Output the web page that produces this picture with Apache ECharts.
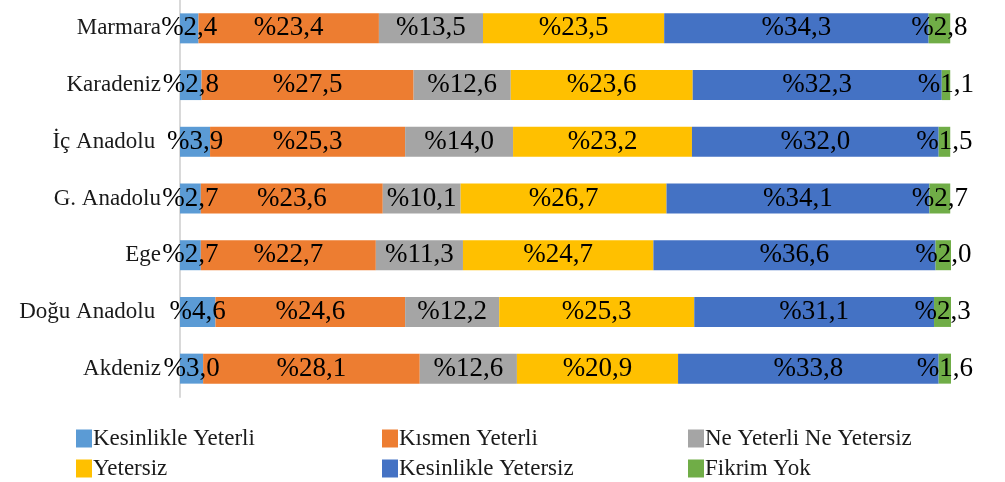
<!DOCTYPE html>
<html>
<head>
<meta charset="utf-8">
<script src="https://cdn.jsdelivr.net/npm/echarts@6/dist/echarts.min.js"></script>
<style>
html,body{margin:0;padding:0;background:#fff;}
#c{width:1005px;height:482px;}
</style>
</head>
<body>
<div id="c"></div>
<script>
const categories = ['Marmara', 'Karadeniz', 'İç Anadolu ', 'G. Anadolu', 'Ege', 'Doğu Anadolu ', 'Akdeniz'];
const seriesNames = ['Kesinlikle Yeterli', 'Kısmen Yeterli', 'Ne Yeterli Ne Yetersiz', 'Yetersiz', 'Kesinlikle Yetersiz', 'Fikrim Yok'];
const kesinlikleYeterli = [2.4, 2.8, 3.9, 2.7, 2.7, 4.6, 3.0];
const kismenYeterli = [23.4, 27.5, 25.3, 23.6, 22.7, 24.6, 28.1];
const neYeterliNeYetersiz = [13.5, 12.6, 14.0, 10.1, 11.3, 12.2, 12.6];
const yetersiz = [23.5, 23.6, 23.2, 26.7, 24.7, 25.3, 20.9];
const kesinlikleYetersiz = [34.3, 32.3, 32.0, 34.1, 36.6, 31.1, 33.8];
const fikrimYok = [2.8, 1.1, 1.5, 2.7, 2.0, 2.3, 1.6];
const values = [kesinlikleYeterli, kismenYeterli, neYeterliNeYetersiz, yetersiz, kesinlikleYetersiz, fikrimYok];
const colors = ['#5B9BD5', '#ED7D31', '#A5A5A5', '#FFC000', '#4472C4', '#70AD47'];

const font = '"Liberation Serif", "DejaVu Serif", serif';

const chart = echarts.init(document.getElementById('c'), null, {renderer: 'canvas'});

const legendPos = [
  {left: 76, top: 427}, {left: 382, top: 427}, {left: 688, top: 427},
  {left: 76, top: 457}, {left: 382, top: 457}, {left: 688, top: 457}
];

const option = {
  animation: false,
  color: colors,
  grid: {left: 180, right: 54, top: -3, bottom: 85, containLabel: false},
  xAxis: {
    type: 'value', min: 0, max: 100, show: false
  },
  yAxis: {
    type: 'category', data: categories, inverse: true,
    axisLine: {show: true, lineStyle: {color: '#d9d9d9', width: 2}},
    axisTick: {show: false},
    axisLabel: {margin: 19, fontFamily: font, fontSize: 23, color: '#1a1a1a'}
  },
  legend: seriesNames.map((n, i) => ({
    data: [n], left: legendPos[i].left, top: legendPos[i].top,
    itemWidth: 16, itemHeight: 18, itemGap: 0,
    icon: 'rect',
    textStyle: {fontFamily: font, fontSize: 23, color: '#1a1a1a', padding: [0, 0, 0, -4]},
    padding: 0
  })),
  series: seriesNames.map((n, i) => ({
    name: n, type: 'bar', stack: 'total', barWidth: 30,
    data: values[i],
    itemStyle: {color: colors[i]},
    label: {
      show: true, position: 'inside', color: '#000',
      fontFamily: font, fontSize: 27,
      formatter: p => '%' + p.value.toFixed(1).replace('.', ',')
    }
  }))
};
chart.setOption(option);
</script>
</body>
</html>
